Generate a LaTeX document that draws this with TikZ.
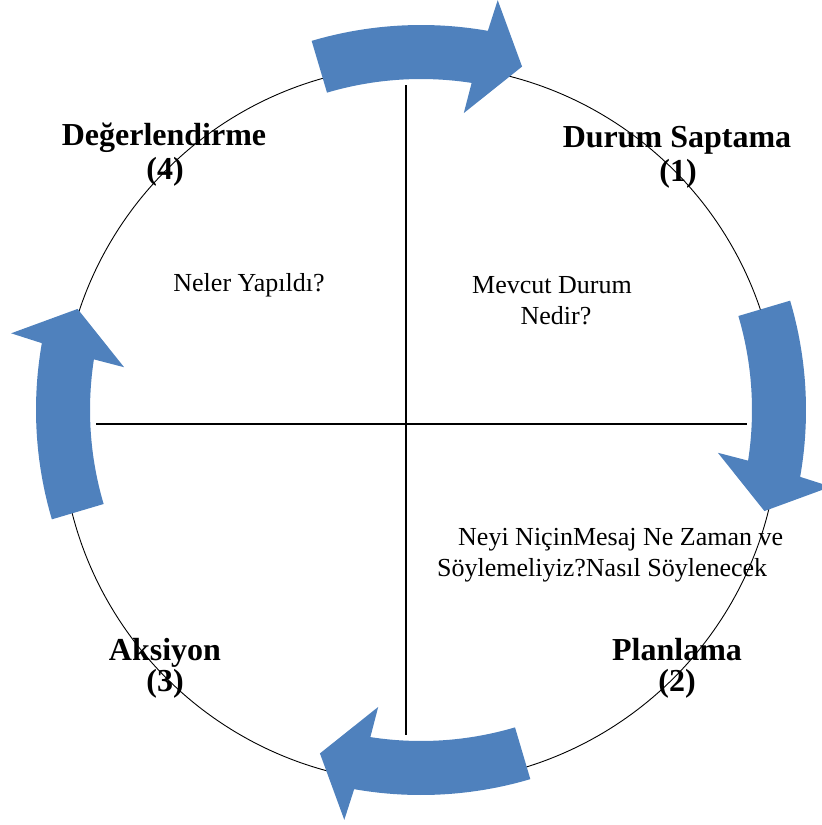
\documentclass[tikz,border=0pt]{standalone}
\usepackage{fontspec}
\setmainfont{Liberation Serif}
\definecolor{arrowblue}{HTML}{4F81BD}
\begin{document}
\begin{tikzpicture}[x=1pt,y=1pt,
  ring/.style={draw=black,line width=0.9pt},
  axis/.style={draw=black,line width=1.6pt},
  blockarrow/.style={fill=arrowblue,draw=none},
  phase/.style={font=\fontsize{32}{38}\selectfont\bfseries,inner sep=0pt,anchor=base},
  question/.style={font=\fontsize{26}{31}\selectfont,inner sep=0pt,anchor=base},
  questionL/.style={question,anchor=base west},
]
\useasboundingbox (0,0) rectangle (822,-825);

% texts
\node[phase] (p1a) at (677,-147) {Durum Saptama};
\node[phase] (p1b) at (678,-181) {(1)};
\node[phase] (p2a) at (677,-660) {Planlama};
\node[phase] (p2b) at (677,-691) {(2)};
\node[phase] (p3a) at (165,-660) {Aksiyon};
\node[phase] (p3b) at (165,-691) {(3)};
\node[phase] (p4a) at (164,-145) {Değerlendirme};
\node[phase] (p4b) at (165,-179) {(4)};

\node[question] (q1a) at (552,-293) {Mevcut Durum};
\node[question] (q1b) at (556,-324) {Nedir?};
\node[question] (q4) at (249,-291) {Neler Yapıldı?};
\node[questionL] (q2a) at (458,-545) {Neyi NiçinMesaj Ne Zaman ve};
\node[questionL] (q2b) at (437,-576) {Söylemeliyiz?Nasıl Söylenecek};

% axes
\coordinate (vt) at (406,-85);
\coordinate (vb) at (406,-735);
\coordinate (hl) at (96,-424);
\coordinate (hr) at (747,-424);
\draw[axis] (vt) -- (vb);
\draw[axis] (hl) -- (hr);

% circle
\coordinate (c) at (420,-424);
\draw[ring] (c) circle[radius=359];

% curved block arrows (clockwise)
\begin{scope}[shift={(421,-410)}]
\foreach \t in {90,0,-90,180}{
  \fill[blockarrow] ({\t+16.5}:385) arc[start angle={\t+16.5}, end angle={\t-10}, radius=385]
    -- ({\t-10.6}:417) -- ({\t-16.4}:358) -- ({\t-8.2}:300) -- ({\t-8.8}:331)
    arc[start angle={\t-8.8}, end angle={\t+16.5}, radius=331] -- cycle;
}
\end{scope}
\end{tikzpicture}
\end{document}
